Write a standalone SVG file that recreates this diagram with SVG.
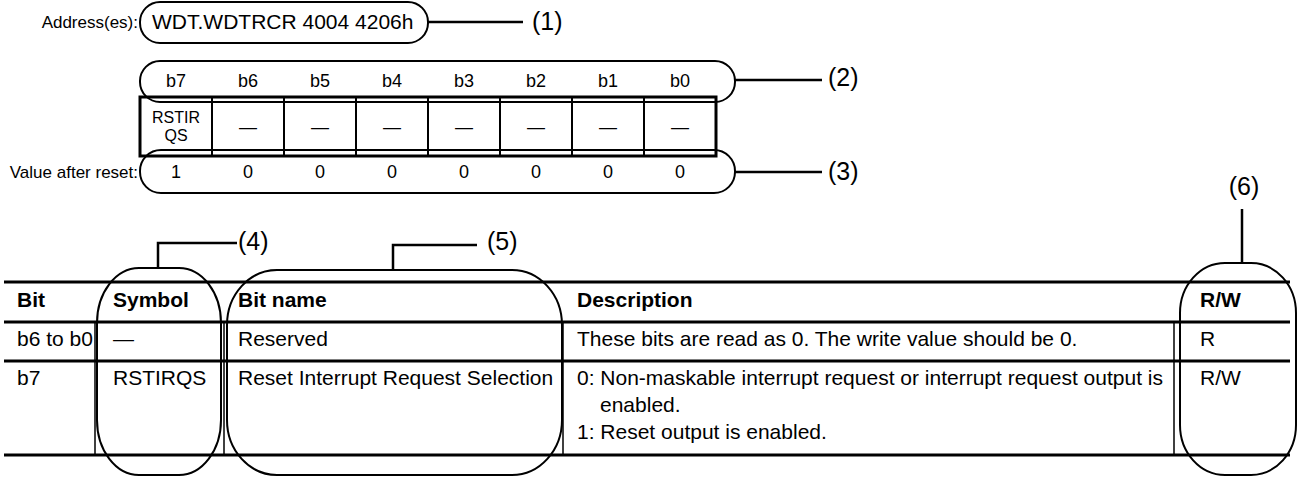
<svg xmlns="http://www.w3.org/2000/svg" width="1298" height="477" viewBox="0 0 1298 477">
<style>
text{font-family:"Liberation Sans",Arial,sans-serif;fill:#000}
.oval{fill:none;stroke:#000;stroke-width:2}
.lead{fill:none;stroke:#000;stroke-width:2.5}
.callout{font-size:25px}
.small{font-size:17px}
.cell{font-size:18px;text-anchor:middle}
.sym{font-size:16px;text-anchor:middle}
.body{font-size:21px}
.head{font-size:21px;font-weight:bold}
.rule{stroke:#000;stroke-width:3}
.col{stroke:#000;stroke-width:1.5}
.fld{stroke:#000;stroke-width:2}
</style>
<rect width="1298" height="477" fill="#fff"/>

<g id="address">
<text class="small" x="138" y="28" text-anchor="end">Address(es):</text>
<rect class="oval" x="140" y="2" width="288" height="41" rx="20"/>
<text x="152" y="29" font-size="21">WDT.WDTRCR 4004 4206h</text>
</g>

<g id="bit-numbers">
<rect class="oval" x="140" y="61" width="595" height="41" rx="20"/>
<text class="cell" x="176" y="87">b7</text>
<text class="cell" x="248" y="87">b6</text>
<text class="cell" x="320" y="87">b5</text>
<text class="cell" x="392" y="87">b4</text>
<text class="cell" x="464" y="87">b3</text>
<text class="cell" x="536" y="87">b2</text>
<text class="cell" x="608" y="87">b1</text>
<text class="cell" x="680" y="87">b0</text>
</g>

<g id="fields">
<rect x="140" y="97" width="576" height="59" fill="none" stroke="#000" stroke-width="3"/>
<line class="fld" x1="212" y1="97" x2="212" y2="156"/>
<line class="fld" x1="284" y1="97" x2="284" y2="156"/>
<line class="fld" x1="356" y1="97" x2="356" y2="156"/>
<line class="fld" x1="428" y1="97" x2="428" y2="156"/>
<line class="fld" x1="500" y1="97" x2="500" y2="156"/>
<line class="fld" x1="572" y1="97" x2="572" y2="156"/>
<line class="fld" x1="644" y1="97" x2="644" y2="156"/>
<text class="sym" x="176" y="123">RSTIR</text>
<text class="sym" x="176" y="141">QS</text>
<text class="cell" x="248" y="133">—</text>
<text class="cell" x="320" y="133">—</text>
<text class="cell" x="392" y="133">—</text>
<text class="cell" x="464" y="133">—</text>
<text class="cell" x="536" y="133">—</text>
<text class="cell" x="608" y="133">—</text>
<text class="cell" x="680" y="133">—</text>
</g>

<g id="reset-values">
<text class="small" x="138" y="178" text-anchor="end">Value after reset:</text>
<rect class="oval" x="140" y="150" width="595" height="43" rx="21"/>
<text class="cell" x="176" y="178">1</text>
<text class="cell" x="248" y="178">0</text>
<text class="cell" x="320" y="178">0</text>
<text class="cell" x="392" y="178">0</text>
<text class="cell" x="464" y="178">0</text>
<text class="cell" x="536" y="178">0</text>
<text class="cell" x="608" y="178">0</text>
<text class="cell" x="680" y="178">0</text>
</g>

<g id="bit-table">
<line class="rule" x1="4" y1="282" x2="1290" y2="282"/>
<line class="rule" x1="4" y1="322" x2="1290" y2="322"/>
<line class="rule" x1="4" y1="361" x2="1290" y2="361" stroke-width="2.5"/>
<line class="rule" x1="4" y1="455" x2="1290" y2="455"/>
<line class="col" x1="95" y1="322" x2="95" y2="455"/>
<line class="col" x1="224" y1="322" x2="224" y2="455"/>
<line class="col" x1="563" y1="322" x2="563" y2="455"/>
<line class="col" x1="1174" y1="322" x2="1174" y2="455"/>
<text class="head" x="17" y="307">Bit</text>
<text class="head" x="113" y="307">Symbol</text>
<text class="head" x="238" y="307">Bit name</text>
<text class="head" x="577" y="307">Description</text>
<text class="head" x="1200" y="307">R/W</text>
<text class="body" x="17" y="346">b6 to b0</text>
<text class="body" x="113" y="346">—</text>
<text class="body" x="238" y="346">Reserved</text>
<text class="body" x="577" y="346">These bits are read as 0. The write value should be 0.</text>
<text class="body" x="1200" y="346">R</text>
<text class="body" x="17" y="385">b7</text>
<text class="body" x="113" y="385">RSTIRQS</text>
<text class="body" x="238" y="385">Reset Interrupt Request Selection</text>
<text class="body" x="577" y="385">0: Non-maskable interrupt request or interrupt request output is</text>
<text class="body" x="600" y="412">enabled.</text>
<text class="body" x="577" y="439">1: Reset output is enabled.</text>
<text class="body" x="1200" y="385">R/W</text>
</g>

<g id="callout-symbol"><rect class="oval" x="97" y="268" width="124" height="207" rx="42" ry="55"/></g>
<g id="callout-bitname"><rect class="oval" x="227" y="270" width="335" height="205" rx="50" ry="55"/></g>
<g id="callout-rw"><rect class="oval" x="1180" y="263" width="116" height="212" rx="45" ry="50"/></g>

<g id="connectors">
<line class="lead" x1="428" y1="22" x2="523" y2="22"/>
<line class="lead" x1="735" y1="80" x2="822" y2="80"/>
<line class="lead" x1="735" y1="172" x2="822" y2="172"/>
<polyline class="lead" points="158,268 158,243 237,243"/>
<polyline class="lead" points="393,270 393,245 477,245"/>
<line class="lead" x1="1242" y1="209" x2="1242" y2="263"/>
</g>

<g id="labels">
<text class="callout" x="532" y="30">(1)</text>
<text class="callout" x="828" y="86">(2)</text>
<text class="callout" x="828" y="180">(3)</text>
<text class="callout" x="238" y="250">(4)</text>
<text class="callout" x="487" y="250">(5)</text>
<text class="callout" x="1244" y="195" text-anchor="middle">(6)</text>
</g>
</svg>
